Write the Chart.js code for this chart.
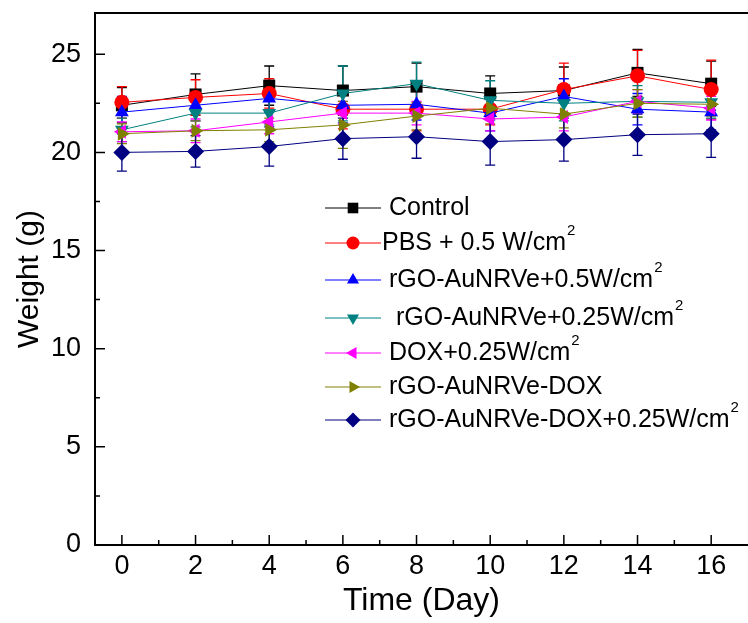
<!DOCTYPE html>
<html>
<head>
<meta charset="utf-8">
<script src="https://cdn.jsdelivr.net/npm/chart.js@4/dist/chart.umd.min.js"></script>
<style>
  html, body { margin: 0; padding: 0; background: #fff; }
  #weightChart { display: block; }
</style>
</head>
<body>
<canvas id="weightChart" width="748" height="623"></canvas>
<script>
// days of measurement
const days = [0, 2, 4, 6, 8, 10, 12, 14, 16];

// group names (legend)
const groupNames = [
  'Control',
  'PBS + 0.5 W/cm²',
  'rGO-AuNRVe+0.5W/cm²',
  ' rGO-AuNRVe+0.25W/cm²',
  'DOX+0.25W/cm²',
  'rGO-AuNRVe-DOX',
  'rGO-AuNRVe-DOX+0.25W/cm²'
];

// mean body weight (g)
const control   = [22.4, 22.95, 23.4, 23.15, 23.35, 23.0, 23.15, 24.05, 23.5];
const pbs       = [22.55, 22.8, 23.0, 22.2, 22.2, 22.2, 23.2, 23.9, 23.2];
const rgo05     = [22.05, 22.4, 22.75, 22.4, 22.45, 22.0, 22.85, 22.2, 22.05];
const rgo025    = [21.15, 22.0, 22.0, 23.0, 23.5, 22.65, 22.5, 22.6, 22.55];
const dox025    = [21.05, 21.1, 21.55, 22.0, 22.0, 21.7, 21.8, 22.6, 22.25];
const rgoDox    = [20.95, 21.1, 21.15, 21.4, 21.85, 22.25, 21.95, 22.5, 22.45];
const rgoDox025 = [20.0, 20.05, 20.3, 20.7, 20.8, 20.55, 20.65, 20.9, 20.95];

// standard deviations (g)
const controlErr   = [0.9, 1.05, 1.0, 1.25, 1.2, 0.9, 1.2, 1.2, 1.15];
const pbsErr       = [0.8, 0.9, 0.75, 1.0, 1.1, 0.8, 1.35, 1.3, 1.5];
const rgo05Err     = [0.8, 0.8, 0.7, 0.9, 0.8, 0.9, 0.9, 0.8, 0.9];
const rgo025Err    = [0.6, 0.7, 0.6, 1.4, 1.1, 1.0, 0.9, 0.8, 0.8];
const dox025Err    = [0.5, 0.6, 0.6, 0.6, 0.6, 0.6, 0.7, 0.6, 0.6];
const rgoDoxErr    = [0.5, 0.5, 0.6, 1.2, 0.7, 0.8, 0.7, 0.7, 0.6];
const rgoDox025Err = [0.95, 0.8, 1.0, 1.05, 1.1, 1.2, 1.1, 1.05, 1.2];

// tick labels
const xTicks = [0, 2, 4, 6, 8, 10, 12, 14, 16];
const yTicks = [0, 5, 10, 15, 20, 25];

const FONT = "'Liberation Sans', Arial, Helvetica, sans-serif";

const means = [control, pbs, rgo05, rgo025, dox025, rgoDox, rgoDox025];
const errs = [controlErr, pbsErr, rgo05Err, rgo025Err, dox025Err, rgoDoxErr, rgoDox025Err];
const colors = ['#000000', '#ff0000', '#0000ff', '#008080', '#ff00ff', '#808000', '#000080'];
const styles = ['rect', 'circle', 'triangle', 'triangle', 'triangle', 'triangle', 'rectRot'];
const rotations = [0, 0, 0, 180, -90, 90, 0];
const radii = [8.5, 7.5, 8, 8, 8, 8, 8.5];

const datasets = means.map((vals, i) => ({
  label: groupNames[i],
  data: vals.map((v, j) => ({ x: days[j], y: v })),
  borderColor: colors[i],
  backgroundColor: colors[i],
  borderWidth: 1,
  pointStyle: styles[i],
  pointRotation: rotations[i],
  pointRadius: radii[i],
  pointBorderWidth: 0,
  order: means.length - 1 - i,
  errors: errs[i]
}));

// legend row positions inside the plot
const legendRows = [208, 243, 280, 318, 353, 387, 420];
const legendTextX = [389, 382, 389, 389, 389, 389, 389];

function drawLabel(ctx, text, x, y) {
  const sup = text.endsWith('²');
  const main = sup ? text.slice(0, -1) : text;
  ctx.font = '25px ' + FONT;
  ctx.textBaseline = 'middle';
  ctx.textAlign = 'left';
  ctx.fillStyle = '#000';
  ctx.fillText(main, x, y);
  if (sup) {
    const w = ctx.measureText(main).width;
    ctx.font = '15px ' + FONT;
    ctx.fillText('2', x + w + 1, y - 12);
  }
}

// axes boxes are fixed so the plot area matches the figure
function fixPad(s) {
  s.paddingTop = 0; s.paddingBottom = 0;
  s.paddingLeft = 0; s.paddingRight = 0;
}

const extras = {
  id: 'extras',
  beforeDatasetsDraw(chart) {
    const { ctx, scales: { x, y } } = chart;
    ctx.save();
    chart.data.datasets.forEach((ds, i) => {
      ctx.strokeStyle = ds.borderColor;
      ctx.lineWidth = 1.3;
      ds.data.forEach((p, j) => {
        const px = x.getPixelForValue(p.x);
        const top = y.getPixelForValue(p.y + ds.errors[j]);
        const bot = y.getPixelForValue(p.y - ds.errors[j]);
        ctx.beginPath();
        ctx.moveTo(px, top); ctx.lineTo(px, bot);
        ctx.moveTo(px - 5, top); ctx.lineTo(px + 5, top);
        ctx.moveTo(px - 5, bot); ctx.lineTo(px + 5, bot);
        ctx.stroke();
      });
    });
    ctx.restore();
  },
  afterDraw(chart) {
    const { ctx, chartArea: a, scales: { x, y } } = chart;
    ctx.save();
    ctx.strokeStyle = '#000';
    ctx.lineWidth = 2;
    // top frame line
    ctx.beginPath();
    ctx.moveTo(a.left - 1, a.top); ctx.lineTo(a.right, a.top);
    ctx.stroke();
    // inward ticks
    ctx.lineWidth = 1.5;
    ctx.beginPath();
    for (let v = 0; v <= 16; v++) {
      const px = x.getPixelForValue(v);
      const len = v % 2 === 0 ? 10 : 5;
      ctx.moveTo(px, a.bottom); ctx.lineTo(px, a.bottom - len);
    }
    for (let v = 2.5; v <= 25; v += 2.5) {
      const py = y.getPixelForValue(v);
      const len = v % 5 === 0 ? 10 : 5;
      ctx.moveTo(a.left, py); ctx.lineTo(a.left + len, py);
    }
    ctx.stroke();

    // legend
    chart.data.datasets.forEach((ds, i) => {
      const ly = legendRows[i];
      ctx.strokeStyle = ds.borderColor;
      ctx.lineWidth = 1;
      ctx.beginPath();
      ctx.moveTo(325, ly); ctx.lineTo(381, ly);
      ctx.stroke();
      ctx.fillStyle = ds.backgroundColor;
      ctx.strokeStyle = ds.borderColor;
      Chart.helpers.drawPoint(ctx, {
        pointStyle: ds.pointStyle,
        rotation: ds.pointRotation,
        radius: ds.pointRadius - 1,
        borderWidth: 0
      }, 353, ly);
      drawLabel(ctx, ds.label, legendTextX[i], ly);
    });
    ctx.restore();
  }
};

new Chart(document.getElementById('weightChart'), {
  type: 'line',
  data: { datasets },
  options: {
    responsive: false,
    animation: false,
    devicePixelRatio: 1,
    layout: { autoPadding: false, padding: { top: 13, right: 0, bottom: 0, left: 0 } },
    plugins: { legend: { display: false }, tooltip: { enabled: false } },
    scales: {
      x: {
        type: 'linear',
        min: -0.73,
        max: 17,
        afterFit: s => { s.height = 78; fixPad(s); },
        afterBuildTicks: s => { s.ticks = xTicks.map(v => ({ value: v })); },
        ticks: { color: '#000', font: { family: FONT, size: 27 }, padding: 5, maxRotation: 0 },
        grid: { display: false, drawTicks: false },
        border: { display: true, color: '#000', width: 2 },
        title: { display: true, text: 'Time (Day)', color: '#000', font: { family: FONT, size: 32 }, padding: { top: 0, bottom: 3 } }
      },
      y: {
        min: 0,
        max: 27.1,
        afterFit: s => { s.width = 95; fixPad(s); },
        afterBuildTicks: s => { s.ticks = yTicks.map(v => ({ value: v })); },
        ticks: { color: '#000', font: { family: FONT, size: 27 }, padding: 14 },
        grid: { display: false, drawTicks: false },
        border: { display: true, color: '#000', width: 2 },
        title: { display: true, text: 'Weight (g)', color: '#000', font: { family: FONT, size: 30 }, padding: { top: 12, bottom: 0 } }
      }
    }
  },
  plugins: [extras]
});
</script>
</body>
</html>
